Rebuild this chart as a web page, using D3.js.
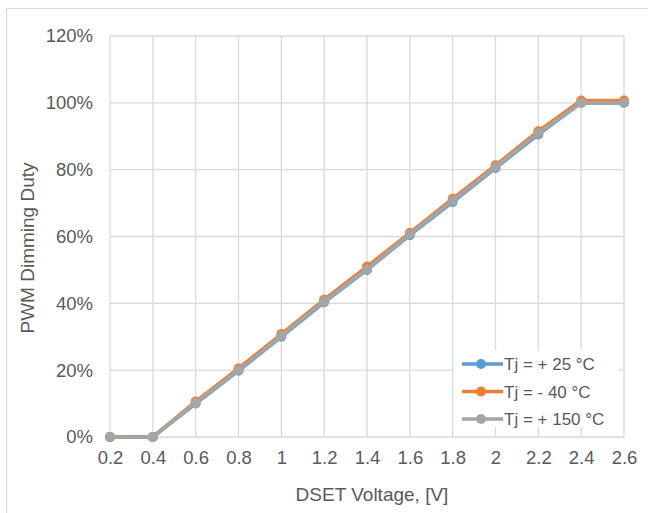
<!DOCTYPE html>
<html>
<head>
<meta charset="utf-8">
<script src="https://cdn.jsdelivr.net/npm/d3@7/dist/d3.min.js"></script>
<style>
  html, body { margin: 0; padding: 0; background: #fff; }
  svg { display: block; }
  text { font-family: "Liberation Sans", Arial, sans-serif; fill: #595959; }
</style>
</head>
<body>
<svg id="chart" width="648" height="513"></svg>
<script>
// DSET voltage sweep (V) and PWM dimming duty (%) per junction temperature
const dsetVoltage = [0.2, 0.4, 0.6, 0.8, 1.0, 1.2, 1.4, 1.6, 1.8, 2.0, 2.2, 2.4, 2.6];
const duty25  = [0, 0, 10.0, 19.8, 30.0, 40.3, 50.0, 60.4, 70.3, 80.5, 90.5, 100.0, 100.0];
const dutyM40 = [0, 0, 10.6, 20.5, 30.8, 41.1, 51.0, 61.1, 71.3, 81.3, 91.5, 100.7, 100.7];
const duty150 = [0, 0, 10.2, 20.0, 30.3, 40.6, 50.2, 60.7, 70.7, 80.8, 90.9, 100.0, 100.0];
const seriesNames = ["Tj = + 25 °C", "Tj = - 40 °C", "Tj = + 150 °C"];
const seriesColors = ["#5B9BD5", "#ED7D31", "#A5A5A5"];
const xTicks = [0.2, 0.4, 0.6, 0.8, 1.0, 1.2, 1.4, 1.6, 1.8, 2.0, 2.2, 2.4, 2.6];
const yTicks = [0, 20, 40, 60, 80, 100, 120];

const svg = d3.select("#chart");

// outer chart frame
svg.append("rect")
  .attr("x", 6.5).attr("y", 8.5).attr("width", 660).attr("height", 520)
  .attr("fill", "#fff").attr("stroke", "#D9D9D9").attr("stroke-width", 1);

const x = d3.scaleLinear().domain([0.2, 2.6]).range([110, 624]);
const y = d3.scaleLinear().domain([0, 120]).range([437, 36]);

// gridlines
const grid = svg.append("g").attr("stroke", "#D9D9D9").attr("stroke-width", 1.3);
grid.selectAll("line.v").data(xTicks).join("line")
  .attr("x1", d => x(d)).attr("x2", d => x(d))
  .attr("y1", y(0)).attr("y2", y(120));
grid.selectAll("line.h").data(yTicks).join("line")
  .attr("y1", d => y(d)).attr("y2", d => y(d))
  .attr("x1", x(0.2)).attr("x2", x(2.6));

// axes (labels only)
const xAxis = svg.append("g").attr("transform", `translate(0,${y(0)})`)
  .call(d3.axisBottom(x).tickValues(xTicks).tickSize(0).tickPadding(14)
    .tickFormat(d => d3.format("")(+d.toFixed(1))));
const yAxis = svg.append("g").attr("transform", `translate(${x(0.2)},0)`)
  .call(d3.axisLeft(y).tickValues(yTicks).tickSize(0).tickPadding(17)
    .tickFormat(d => d + "%"));
[xAxis, yAxis].forEach(a => {
  a.select(".domain").remove();
  a.selectAll("text").style("font-size", "18.5px").attr("fill", "#595959")
    .style("font-family", "'Liberation Sans', Arial, sans-serif");
});

// axis titles
svg.append("text")
  .attr("x", 372).attr("y", 501)
  .attr("text-anchor", "middle").style("font-size", "19px")
  .text("DSET Voltage, [V]");
svg.append("text")
  .attr("transform", "translate(34,248) rotate(-90)")
  .attr("text-anchor", "middle").style("font-size", "19px")
  .text("PWM Dimming Duty");

// series
const allSeries = [duty25, dutyM40, duty150];
const line = d3.line().x((d, i) => x(dsetVoltage[i])).y(d => y(d));
allSeries.forEach((vals, si) => {
  const g = svg.append("g");
  g.append("path").datum(vals)
    .attr("d", line).attr("fill", "none")
    .attr("stroke", seriesColors[si]).attr("stroke-width", 3.6)
    .attr("stroke-linejoin", "round");
  g.selectAll("circle").data(vals).join("circle")
    .attr("cx", (d, i) => x(dsetVoltage[i])).attr("cy", d => y(d))
    .attr("r", 5).attr("fill", seriesColors[si]);
});

// legend
const legend = svg.append("g");
legend.append("rect")
  .attr("x", 454).attr("y", 350).attr("width", 164).attr("height", 77)
  .attr("fill", "#fff");
seriesNames.forEach((name, i) => {
  const cy = 364 + i * 27.5;
  legend.append("line")
    .attr("x1", 462).attr("x2", 503).attr("y1", cy).attr("y2", cy)
    .attr("stroke", seriesColors[i]).attr("stroke-width", 3.6);
  legend.append("circle").attr("cx", 481).attr("cy", cy).attr("r", 5)
    .attr("fill", seriesColors[i]);
  legend.append("text").attr("x", 504).attr("y", cy + 6)
    .style("font-size", "17px").text(name);
});
</script>
</body>
</html>
